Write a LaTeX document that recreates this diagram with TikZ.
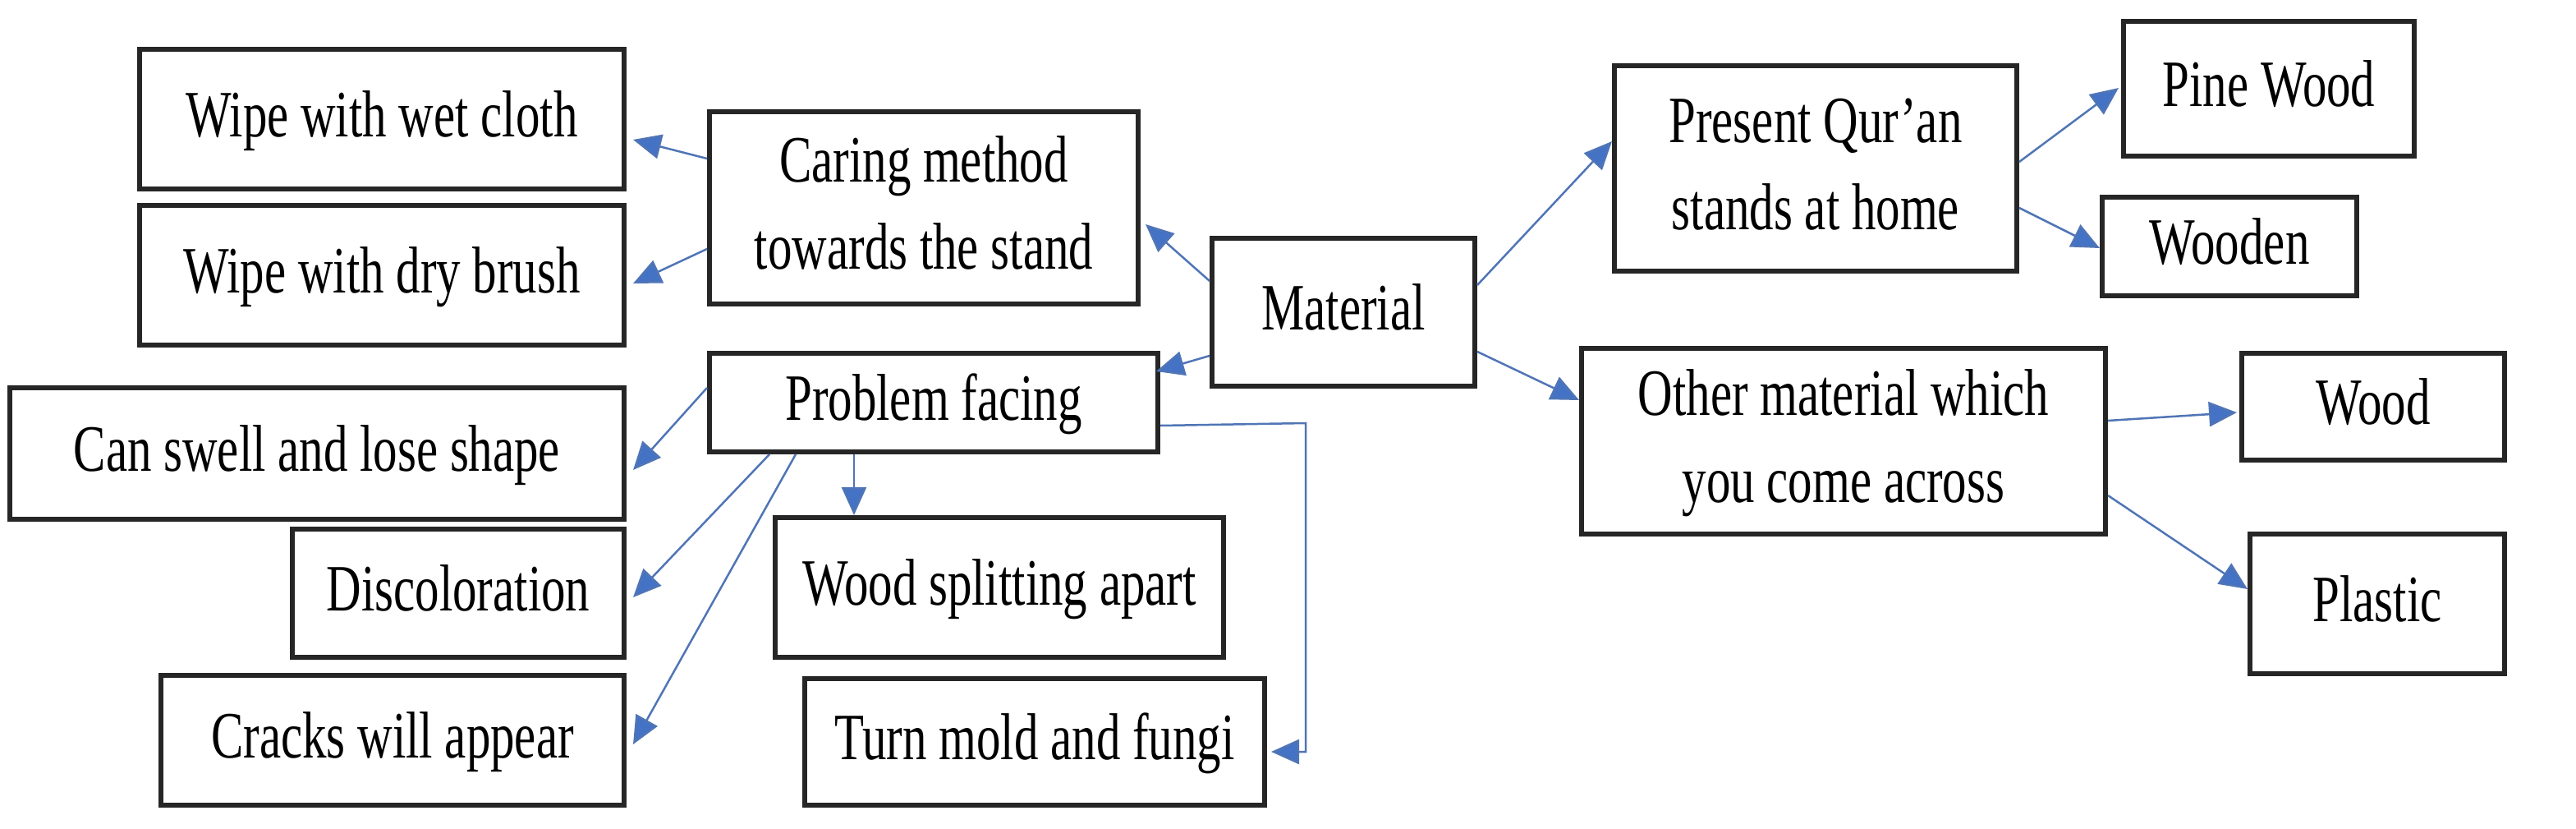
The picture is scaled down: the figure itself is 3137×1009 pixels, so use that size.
\documentclass[tikz,border=0pt]{standalone}
\usepackage{fontspec}
\setmainfont{Liberation Serif}
\usetikzlibrary{arrows.meta}
\definecolor{ab}{RGB}{68,114,196}
\newcommand{\bx}[6]{\node[box,minimum width={(#4-#2)*1pt},minimum height={(#5-#3)*1pt}] (#1) at ({(#2+#4)/2},{-(#3+#5)/2}) {\scalebox{0.95}[1.3]{\begin{tabular}{@{}c@{}}#6\end{tabular}}};}
\begin{document}
\begin{tikzpicture}[x=1pt,y=1pt,
  box/.style={draw=black!85,line width=6pt,inner sep=0pt,align=center,font=\fontsize{62}{82}\selectfont},
  ar/.style={draw=ab!80!gray,line width=2.5pt,-{Triangle[length=34pt,width=30pt,fill=ab]}}]
\useasboundingbox (0,0) rectangle (3137,-1009);
\bx{wet}{170}{60}{760}{230}{Wipe with wet cloth}
\bx{dry}{170}{250}{760}{420}{Wipe with dry brush}
\bx{caring}{864}{136}{1386}{370}{Caring method\\towards the stand}
\bx{mat}{1476}{290}{1796}{470}{Material}
\bx{prob}{864}{430}{1410}{550}{Problem facing}
\bx{swell}{12}{472}{760}{632}{Can swell and lose shape}
\bx{disc}{356}{644}{760}{800}{Discoloration}
\bx{split}{944}{630}{1490}{800}{Wood splitting apart}
\bx{crack}{196}{822}{760}{980}{Cracks will appear}
\bx{mold}{980}{826}{1540}{980}{Turn mold and fungi}
\bx{pres}{1966}{80}{2456}{330}{Present Qur’an\\stands at home}
\bx{pine}{2586}{26}{2940}{190}{Pine Wood}
\bx{wooden}{2560}{240}{2870}{360}{Wooden}
\bx{other}{1926}{424}{2564}{650}{Other material which\\you come across}
\bx{wood}{2730}{430}{3050}{560}{Wood}
\bx{plast}{2740}{650}{3050}{820}{Plastic}
\draw[ar] ([yshift=-60pt]caring.north west) -- ([xshift=8pt,yshift=-25pt]wet.east);
\draw[ar] ([yshift=70pt]caring.south west) -- ([xshift=8pt,yshift=-10pt]dry.east);
\draw[ar] ([yshift=-55pt]mat.north west) -- ([xshift=6pt,yshift=-20pt]caring.east);
\draw[ar] ([yshift=40pt]mat.south west) -- ([xshift=-5pt,yshift=-25pt]prob.north east);
\draw[ar] ([yshift=-45pt]prob.north west) -- ([xshift=8pt,yshift=-20pt]swell.east);
\draw[ar] ([xshift=76pt]prob.south west) -- ([xshift=8pt,yshift=-5pt]disc.east);
\draw[ar] ([xshift=108pt]prob.south west) -- ([xshift=8pt,yshift=-5pt]crack.east);
\draw[ar] ([xshift=-97pt]prob.south) -- ([xshift=-97pt]prob.south |- split.north);
\coordinate (c1) at (1590,-515);
\coordinate (c2) at (1590,-915);
\draw[ar] ([yshift=35pt]prob.south east) -- (c1) -- (c2) -- ([xshift=5pt,yshift=-12pt]mold.east);
\draw[ar] ([yshift=-60pt]mat.north east) -- ([yshift=-95pt]pres.north west);
\draw[ar] ([yshift=45pt]mat.south east) -- ([yshift=-66pt]other.north west);
\draw[ar] ([yshift=-120pt]pres.north east) -- ([xshift=-3pt,yshift=-84pt]pine.north west);
\draw[ar] ([yshift=80pt]pres.south east) -- ([yshift=-65pt]wooden.north west);
\draw[ar] ([yshift=-91pt]other.north east) -- ([xshift=-3pt,yshift=-75pt]wood.north west);
\draw[ar] ([yshift=50pt]other.south east) -- ([yshift=-70pt]plast.north west);
\end{tikzpicture}
\end{document}
